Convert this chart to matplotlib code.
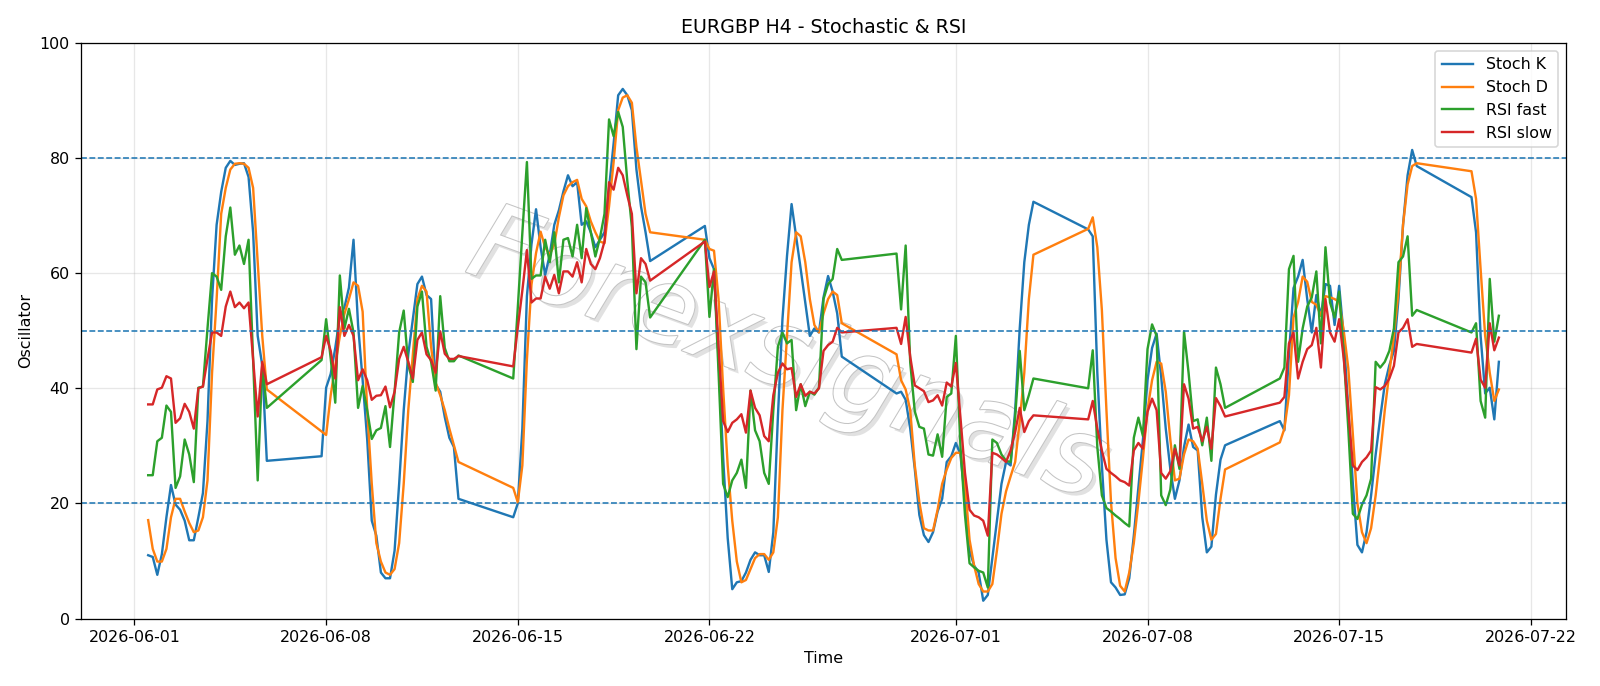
import numpy as np
import pandas as pd
import matplotlib
matplotlib.use('Agg')
import matplotlib.pyplot as plt
import matplotlib.patheffects as pe

# H4 sessions: first bar / last bar of each trading week
session_start = ['2026-06-01 12:00', '2026-06-07 20:00', '2026-06-14 20:00', '2026-06-21 20:00',
                 '2026-06-28 20:00', '2026-07-05 20:00', '2026-07-12 20:00', '2026-07-19 20:00']
session_end = ['2026-06-05 20:00', '2026-06-12 20:00', '2026-06-19 20:00', '2026-06-26 20:00',
               '2026-07-03 20:00', '2026-07-10 20:00', '2026-07-17 20:00', '2026-07-20 20:00']

stoch_k = [
    11.0, 10.7, 7.6, 11.2, 17.6, 23.2, 19.8, 18.9, 17.0, 13.6, 13.6, 17.6, 21.8, 34.3, 55.5, 68.4,
    74.1, 78.3, 79.5, 78.8, 79.0, 79.1, 76.7, 67.1, 49.1, 44.0, 27.4,
    28.2, 40.1, 42.5, 47.0, 52.5, 54.0, 57.5, 65.8, 51.0, 41.4, 31.1, 17.0, 14.4, 8.0, 7.0, 7.0,
    11.8, 23.4, 36.2, 45.9, 52.0, 58.1, 59.4, 56.2, 55.5, 40.7, 39.4, 35.0, 31.4, 29.8, 20.8,
    17.6, 20.0, 33.0, 56.0, 65.0, 71.1, 64.5, 59.7, 63.2, 68.4, 70.9, 74.2, 77.0, 75.1, 75.8,
    68.4, 69.0, 67.1, 64.5, 65.8, 67.1, 74.8, 82.5, 90.9, 92.0, 90.9, 88.3, 78.0, 71.6, 67.1, 62.1,
    68.2, 62.6, 60.7, 45.0, 28.0, 14.0, 5.1, 6.3, 6.5, 8.0, 10.2, 11.5, 11.0, 11.0, 8.1, 15.0,
    35.0, 52.0, 63.0, 72.0, 66.4, 60.7, 54.9, 49.1, 50.4, 49.7, 55.8, 59.5, 56.8, 53.0, 45.5,
    39.1, 39.4, 38.0, 33.0, 26.0, 18.0, 14.5, 13.3, 15.0, 18.6, 20.8, 27.2, 28.2, 30.5, 28.5,
    20.8, 11.8, 9.2, 8.0, 3.1, 4.1, 10.5, 17.0, 23.4, 27.2, 26.6, 36.2, 50.4, 61.9, 68.4, 72.4,
    67.6, 66.4, 42.7, 26.6, 13.7, 6.3, 5.4, 4.1, 4.2, 7.0, 14.4, 22.7, 31.1, 41.4, 47.0, 49.5,
    42.0, 33.0, 26.0, 20.8, 24.0, 29.8, 33.7, 29.8, 29.2, 17.6, 11.5, 12.5, 21.5, 27.6, 30.1,
    34.3, 32.7, 45.9, 57.4, 59.4, 62.3, 55.5, 49.7, 56.2, 52.6, 58.1, 57.8, 51.0, 57.8, 49.1,
    36.2, 23.4, 12.8, 11.5, 15.0, 21.4, 28.5, 34.9, 40.7, 44.0, 46.5, 55.5, 68.4, 77.0, 81.4, 78.6,
    73.2, 67.1, 49.1, 39.1, 40.1, 34.6, 44.6]

stoch_d = [
    17.1, 12.1, 9.9, 9.9, 12.1, 17.6, 20.8, 20.8, 18.6, 16.6, 15.0, 15.3, 17.6, 24.0, 42.7, 55.5,
    70.3, 74.8, 78.0, 79.0, 79.1, 79.0, 78.3, 74.8, 61.9, 49.1, 39.8,
    32.5, 31.9, 38.8, 43.9, 49.1, 52.9, 55.5, 58.4, 57.8, 53.3, 36.2, 23.4, 13.1, 9.9, 8.0, 7.6,
    8.6, 13.1, 23.4, 36.2, 45.9, 55.5, 57.8, 56.8, 47.2, 41.0, 38.8, 36.2, 33.0, 30.1, 27.2,
    22.7, 20.2, 26.6, 45.0, 58.0, 63.5, 67.2, 64.5, 63.2, 65.0, 69.7, 73.5, 75.1, 75.8, 76.2,
    72.9, 71.6, 69.0, 67.1, 65.5, 65.2, 71.6, 79.3, 88.3, 90.5, 90.9, 89.6, 81.9, 76.1, 70.3, 67.1,
    65.8, 64.2, 63.9, 55.5, 40.0, 26.6, 17.0, 9.9, 6.3, 6.7, 8.6, 10.5, 11.2, 11.2, 10.2, 11.5,
    17.6, 36.2, 49.1, 61.9, 67.1, 66.4, 61.9, 55.5, 51.0, 49.7, 53.0, 55.5, 56.8, 56.2, 51.3,
    45.9, 41.4, 39.8, 36.2, 26.6, 20.2, 15.7, 15.3, 15.3, 18.9, 23.4, 25.9, 27.9, 28.8, 28.8,
    23.4, 13.7, 9.2, 6.0, 4.7, 4.7, 6.0, 11.8, 18.2, 22.1, 24.7, 27.2, 34.3, 42.7, 55.5, 63.2,
    67.7, 69.7, 64.5, 53.6, 36.2, 20.2, 10.5, 5.7, 4.7, 8.0, 13.1, 20.2, 27.9, 36.2, 41.4, 44.6,
    44.3, 39.4, 31.1, 24.0, 24.3, 28.5, 31.1, 30.8, 29.5, 23.4, 17.0, 13.7, 14.7, 20.8, 25.9,
    30.6, 33.0, 38.8, 52.3, 55.0, 59.4, 58.5, 55.0, 54.5, 52.6, 56.0, 55.8, 55.5, 55.0, 50.0,
    43.5, 32.0, 20.0, 15.0, 13.1, 15.7, 21.4, 28.5, 36.2, 42.7, 49.1, 56.8, 68.4, 75.4, 78.6, 79.1,
    77.7, 72.9, 60.7, 49.1, 42.7, 37.8, 39.8]

rsi_fast = [
    24.9, 24.9, 30.8, 31.4, 37.0, 35.9, 22.7, 24.7, 31.1, 28.5, 23.7, 40.1, 40.3, 50.4, 60.0, 59.4,
    57.1, 66.4, 71.4, 63.2, 64.8, 61.6, 65.8, 45.0, 24.0, 44.0, 36.6,
    44.9, 52.0, 45.2, 37.5, 59.6, 50.4, 53.8, 49.7, 36.6, 40.4, 36.2, 31.2, 32.7, 33.1, 36.9, 29.8,
    39.4, 49.7, 53.5, 44.0, 41.1, 54.2, 56.8, 47.2, 44.6, 39.6, 56.0, 47.0, 44.7, 44.7, 45.7,
    41.7, 54.0, 67.0, 79.3, 59.0, 59.6, 59.6, 65.8, 61.9, 67.1, 58.4, 65.8, 66.1, 62.9, 68.4,
    62.6, 71.3, 67.1, 62.9, 66.1, 70.3, 86.7, 83.8, 88.0, 85.4, 76.0, 68.0, 46.8, 59.4, 58.4, 52.3,
    65.8, 52.4, 60.7, 42.7, 23.4, 21.1, 24.0, 25.3, 27.6, 22.7, 39.6, 32.7, 30.8, 25.3, 23.4, 36.2,
    47.2, 49.7, 47.8, 48.4, 36.2, 40.7, 36.9, 39.4, 38.9, 40.1, 55.5, 58.1, 59.0, 64.2, 62.3,
    63.4, 53.7, 64.8, 44.5, 36.0, 33.3, 33.0, 28.5, 28.3, 32.0, 28.1, 38.5, 39.1, 49.1, 30.0,
    18.0, 9.6, 8.9, 8.3, 8.0, 5.4, 31.1, 30.5, 28.5, 27.4, 27.2, 35.0, 46.5, 36.2, 38.8, 41.7,
    40.0, 46.6, 29.8, 21.4, 19.2, 18.6, 17.9, 17.3, 16.6, 16.0, 31.4, 34.9, 31.7, 46.8, 51.1, 49.1,
    21.4, 19.7, 22.4, 30.1, 26.0, 49.9, 42.7, 34.3, 34.6, 30.1, 34.9, 27.4, 43.6, 40.7, 36.6,
    41.7, 43.6, 60.7, 63.0, 44.6, 50.4, 54.2, 55.8, 60.3, 47.8, 64.5, 54.9, 52.3, 56.8, 45.9,
    33.0, 18.2, 17.3, 19.8, 21.4, 24.3, 44.6, 43.6, 44.6, 46.5, 50.4, 61.9, 62.9, 66.4, 52.6, 53.6,
    49.7, 51.3, 37.8, 34.9, 59.0, 48.1, 52.6]

rsi_slow = [
    37.2, 37.2, 39.8, 40.1, 42.1, 41.7, 34.0, 34.8, 37.3, 35.9, 33.0, 40.0, 40.3, 45.1, 49.7, 49.7,
    49.1, 54.2, 56.8, 54.1, 54.9, 53.9, 54.9, 44.9, 35.1, 44.6, 40.7,
    45.4, 49.1, 46.5, 41.7, 54.1, 49.1, 51.0, 49.1, 41.4, 43.3, 41.4, 38.0, 38.7, 38.8, 40.3, 36.7,
    39.4, 45.1, 47.2, 44.6, 41.7, 48.4, 49.7, 45.9, 44.9, 42.7, 49.9, 46.0, 45.1, 45.1, 45.6,
    43.8, 50.5, 57.0, 64.0, 54.9, 55.6, 55.6, 59.4, 57.3, 59.7, 56.5, 60.3, 60.3, 59.4, 61.9,
    58.4, 64.2, 61.6, 60.7, 62.6, 65.5, 75.8, 74.5, 78.3, 77.0, 73.5, 70.3, 56.5, 62.6, 61.6, 58.7,
    65.5, 57.6, 60.3, 47.2, 34.3, 32.4, 34.0, 34.6, 35.5, 32.3, 39.6, 36.6, 35.3, 31.7, 30.8, 38.8,
    42.7, 44.3, 43.3, 43.5, 38.5, 40.7, 38.7, 39.4, 39.1, 40.0, 46.5, 47.5, 48.1, 50.5, 49.7,
    50.5, 47.7, 52.4, 45.5, 40.5, 40.0, 39.5, 37.6, 37.9, 38.8, 37.0, 41.0, 40.3, 44.4, 35.0,
    25.3, 18.9, 17.9, 17.6, 17.0, 14.4, 28.8, 28.5, 27.9, 27.2, 29.2, 32.4, 36.6, 32.4, 34.3, 35.3,
    34.6, 37.8, 33.0, 29.2, 26.0, 25.3, 24.7, 24.0, 23.7, 23.1, 29.2, 30.5, 29.5, 35.9, 38.2, 36.2,
    25.3, 24.3, 25.6, 29.5, 26.6, 40.7, 38.2, 33.0, 33.3, 30.8, 33.3, 29.5, 38.3, 36.9, 35.1,
    37.5, 38.5, 47.8, 49.7, 41.7, 44.6, 46.8, 47.5, 50.5, 43.6, 55.5, 49.7, 48.1, 52.0, 45.2,
    36.2, 26.6, 25.8, 27.2, 28.0, 29.2, 40.2, 39.8, 40.4, 41.7, 43.9, 49.7, 50.5, 52.0, 47.2, 47.7,
    46.2, 48.6, 41.5, 40.1, 51.3, 46.6, 48.8]

levels = [20, 50, 80]

times = pd.DatetimeIndex(np.concatenate(
    [pd.date_range(s, e, freq='4h').values for s, e in zip(session_start, session_end)]))

fig, ax = plt.subplots(figsize=(14, 6.0025))
fig.subplots_adjust(left=0.0504, right=0.979, top=0.9375, bottom=0.0983)

# watermark: hollow grey letters with a soft shadow
ax.text(0.4755, 0.453, 'Forexsignals', transform=ax.transAxes,
        fontsize=67, fontstyle='italic', color='white', rotation=-20,
        ha='center', va='center', zorder=0.5,
        path_effects=[pe.withSimplePatchShadow(offset=(2.5, -2.5), shadow_rgbFace='#aaaaaa', alpha=0.35),
                      pe.Stroke(linewidth=1.3, foreground='#c4c4c4'), pe.Normal()])

ax.plot(times, stoch_k, label='Stoch K')
ax.plot(times, stoch_d, label='Stoch D')
ax.plot(times, rsi_fast, label='RSI fast')
ax.plot(times, rsi_slow, label='RSI slow')

for lvl in levels:
    ax.axhline(lvl, linestyle='--', linewidth=1)

ax.set_ylim(0, 100)
ax.set_title('EURGBP H4 - Stochastic & RSI')
ax.set_xlabel('Time')
ax.set_ylabel('Oscillator')
ax.grid(True, alpha=0.3)
ax.legend(loc='upper right')

fig.savefig('out.png', dpi=1600 / 14)
